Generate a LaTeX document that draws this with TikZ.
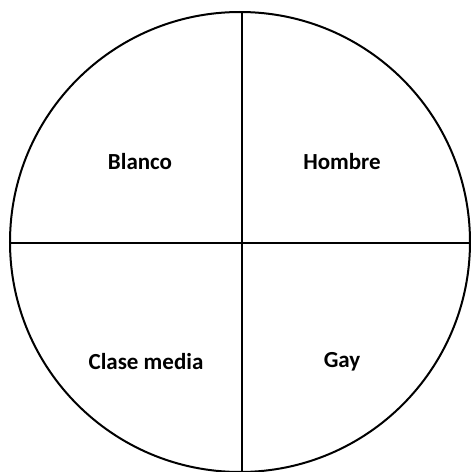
\documentclass[tikz,border=0pt]{standalone}
\usepackage{fontspec}
\setmainfont{Carlito}
\begin{document}
\begin{tikzpicture}[x=1pt,y=1pt,
  lbl/.style={font=\bfseries\fontsize{23}{27}\selectfont, inner sep=0pt},
  edge/.style={line width=2.4pt},
  rim/.style={line width=2pt}]
\useasboundingbox (0,0) rectangle (471,472);
\clip (0,0) rectangle (471,472);
\coordinate (c) at (240,230);
\draw[rim] (c) circle (230);
\coordinate (top) at (242,460);
\coordinate (bot) at (242,-5);
\coordinate (lft) at (10,229);
\coordinate (rgt) at (476,229);
\draw[edge] (top) -- (bot);
\draw[edge] (lft) -- (rgt);
\node[lbl] (blanco) at (140,310) {Blanco};
\node[lbl] (hombre) at (342,310) {Hombre};
\node[lbl] (clase) at (146,110) {Clase media};
\node[lbl] (gay) at (342,110) {Gay};
\end{tikzpicture}
\end{document}
